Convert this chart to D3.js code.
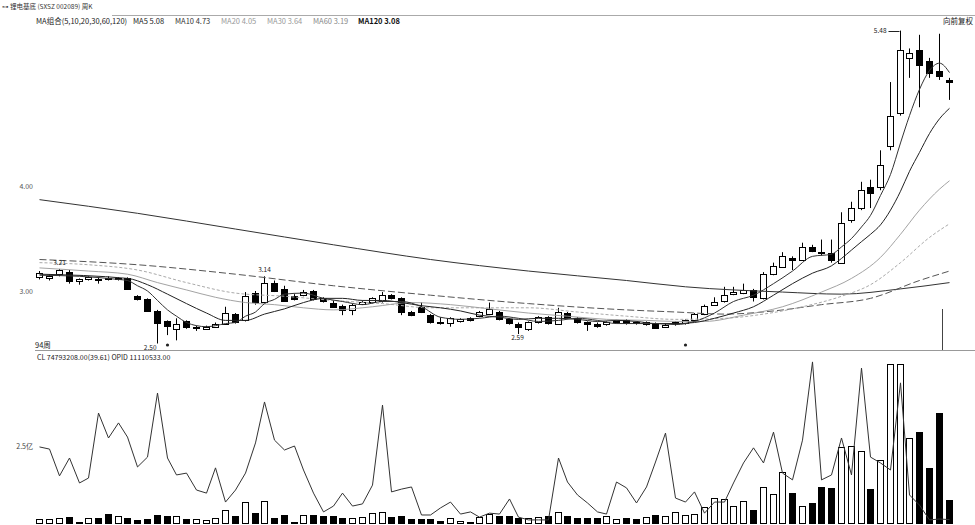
<!DOCTYPE html>
<html>
<head>
<meta charset="utf-8">
<script src="https://cdn.jsdelivr.net/npm/d3@7"></script>
<style>
  body { margin: 0; background: #fff; }
  text { font-family: "Noto Sans CJK SC", "DejaVu Sans", sans-serif; }
</style>
</head>
<body>
<div id="chart"></div>
<script>
// weekly OHLC, 94 bars
const open = [3.13,3.12,3.16,3.18,3.09,3.11,3.11,3.12,3.11,3.12, 2.95,2.92,2.81,2.71,2.64,2.71,2.65,2.64,2.66,2.69,
  2.78,2.72,2.98,2.90,3.08,3.02,2.95,2.96,3.00,2.93, 2.89,2.86,2.82,2.88,2.89,2.90,2.96,2.93,2.80,2.85,
  2.77,2.70,2.69,2.71,2.74,2.76,2.78,2.80,2.73,2.69, 2.63,2.70,2.75,2.69,2.79,2.74,2.70,2.69,2.68,2.70,
  2.72,2.70,2.68,2.69,2.66,2.69,2.69,2.72,2.78,2.87, 2.90,2.97,2.98,3.01,2.93,3.16,3.23,3.31,3.30,3.42,
  3.37,3.36,3.27,3.68,3.79,3.99,3.99,4.38,4.70,5.22, 5.30,5.19,5.10,5.01]
const high = [3.19,3.16,3.21,3.20,3.12,3.14,3.13,3.14,3.13,3.13, 2.96,2.93,2.82,2.72,2.74,2.72,2.67,2.67,2.70,2.85,
  2.79,2.99,3.00,3.14,3.10,3.05,2.97,3.01,3.01,2.94, 2.91,2.87,2.88,2.91,2.94,2.99,2.97,2.94,2.81,2.89,
  2.78,2.75,2.75,2.74,2.75,2.81,2.89,2.81,2.74,2.70, 2.71,2.76,2.76,2.84,2.80,2.75,2.71,2.70,2.71,2.72,
  2.73,2.71,2.71,2.70,2.69,2.71,2.73,2.79,2.87,2.94, 3.04,3.04,3.07,3.02,3.18,3.27,3.37,3.33,3.46,3.44,
  3.49,3.49,3.75,3.85,4.04,4.06,4.34,4.99,5.48,5.31, 5.44,5.22,5.45,5.03]
const low = [3.11,3.10,3.14,3.07,3.06,3.10,3.07,3.10,3.10,3.01, 2.91,2.80,2.50,2.58,2.53,2.64,2.62,2.63,2.65,2.68,
  2.69,2.71,2.87,2.89,2.99,2.90,2.91,2.95,2.91,2.89, 2.84,2.77,2.77,2.87,2.88,2.89,2.92,2.77,2.76,2.79,
  2.69,2.68,2.66,2.70,2.71,2.75,2.77,2.72,2.68,2.59, 2.62,2.69,2.68,2.68,2.74,2.69,2.62,2.65,2.67,2.69,
  2.68,2.68,2.67,2.64,2.65,2.67,2.68,2.71,2.77,2.86, 2.89,2.96,2.97,2.90,2.92,3.15,3.22,3.20,3.29,3.37,
  3.34,3.27,3.26,3.65,3.77,3.79,3.96,4.34,4.67,5.03, 4.75,5.03,5.01,4.82]
const close = [3.17,3.14,3.20,3.09,3.11,3.13,3.10,3.11,3.12,3.02, 2.92,2.81,2.70,2.66,2.69,2.65,2.66,2.66,2.69,2.79,
  2.70,2.95,2.89,3.08,3.00,2.91,2.92,2.99,2.92,2.90, 2.85,2.82,2.87,2.90,2.93,2.96,2.93,2.80,2.77,2.80,
  2.70,2.69,2.74,2.73,2.72,2.80,2.83,2.73,2.69,2.66, 2.70,2.75,2.69,2.80,2.75,2.70,2.68,2.67,2.70,2.71,
  2.69,2.69,2.70,2.65,2.68,2.70,2.72,2.78,2.86,2.90, 2.96,2.99,3.01,2.94,3.16,3.24,3.33,3.29,3.42,3.38,
  3.36,3.29,3.65,3.79,3.96,3.93,4.20,4.67,5.30,5.27, 5.16,5.08,5.05,4.99]

// volume (亿) and the volume-panel line (亿)
const volume = [0.13,0.13,0.16,0.19,0.03,0.16,0.16,0.29,0.23,0.16, 0.10,0.13,0.26,0.23,0.23,0.13,0.13,0.10,0.16,0.42,
  0.23,0.68,0.32,0.71,0.16,0.26,0.02,0.26,0.26,0.23, 0.23,0.16,0.16,0.19,0.32,0.36,0.19,0.23,0.13,0.13,
  0.13,0.06,0.16,0.06,0.02,0.19,0.29,0.23,0.23,0.16, 0.16,0.19,0.23,0.36,0.23,0.16,0.16,0.16,0.23,0.13,
  0.16,0.13,0.19,0.26,0.23,0.36,0.26,0.29,0.52,0.81, 0.78,0.55,0.71,0.42,1.17,0.94,1.66,0.97,0.55,0.65,
  1.17,1.14,2.47,2.50,2.34,1.10,2.05,5.16,5.16,2.76, 2.95,1.79,3.57,0.75]
const volLine = [2.47,2.40,1.53,2.11,1.30,1.46,3.57,2.76,3.25,2.79, 1.82,2.14,4.22,2.11,1.56,1.62,1.07,0.97,1.79,0.68,
  1.07,1.62,2.60,3.93,2.69,2.37,2.50,1.72,0.97,0.36, 0.55,0.97,0.55,0.62,1.23,3.83,1.01,1.10,1.17,0.26,
  0.26,0.49,0.68,0.29,0.36,0.19,0.32,0.29,0.78,0.19, 0.10,0.10,0.10,2.11,1.33,0.91,0.65,0.36,0.29,1.33,
  1.14,0.65,1.17,1.98,2.92,0.81,0.68,1.01,0.32,0.68, 0.68,1.30,1.95,2.44,1.95,2.95,1.62,1.40,2.69,5.23,
  1.40,1.56,2.76,1.56,5.03,2.14,1.95,1.72,4.55,0.91, 0.58,0.10,0.13,0.11]

// moving averages: [bar, price]
const ma5 = [[0,3.15],[4,3.14],[8,3.11],[9,3.10],[10,3.05],[11,3.00],[12,2.91],[13,2.82],[14,2.76],[15,2.70],[16,2.67],[17,2.66],[18,2.67],[19,2.69],[20,2.70],[21,2.76],[22,2.80],[23,2.88],[24,2.92],[25,2.97],[27,2.98],[29,2.93],[31,2.90],[33,2.87],[35,2.90],[37,2.90],[39,2.85],[41,2.75],[43,2.73],[45,2.74],[47,2.76],[49,2.74],[51,2.71],[53,2.72],[55,2.74],[57,2.72],[59,2.69],[61,2.69],[63,2.69],[65,2.68],[67,2.71],[69,2.79],[71,2.90],[73,2.96],[75,3.07],[77,3.19],[79,3.33],[81,3.35],[82,3.42],[83,3.50],[84,3.61],[85,3.72],[86,3.91],[87,4.11],[88,4.41],[89,4.67],[90,4.92],[91,5.10],[92,5.17],[93,5.08]]
const ma10 = [[0,3.16],[9,3.12],[11,3.06],[13,2.97],[15,2.88],[17,2.79],[19,2.72],[21,2.72],[23,2.78],[25,2.83],[27,2.89],[29,2.93],[31,2.93],[33,2.91],[35,2.91],[37,2.89],[39,2.86],[41,2.84],[43,2.81],[45,2.77],[47,2.75],[49,2.73],[51,2.74],[53,2.74],[55,2.73],[57,2.71],[59,2.72],[61,2.71],[63,2.69],[65,2.69],[67,2.70],[69,2.74],[71,2.79],[73,2.85],[75,2.96],[77,3.07],[79,3.17],[81,3.24],[82,3.31],[83,3.39],[84,3.47],[85,3.54],[86,3.63],[87,3.77],[88,3.95],[89,4.14],[90,4.32],[91,4.50],[92,4.64],[93,4.74]]
const ma20 = [[0,3.22],[5,3.19],[9,3.16],[12,3.08],[15,3.01],[18,2.94],[21,2.89],[24,2.87],[27,2.84],[30,2.82],[34,2.85],[38,2.89],[42,2.87],[46,2.83],[50,2.79],[54,2.76],[58,2.73],[62,2.72],[65,2.71],[68,2.71],[72,2.77],[76,2.85],[80,2.99],[83,3.12],[86,3.32],[88,3.54],[90,3.77],[92,3.97],[93,4.05]]
const ma30 = [[0,3.27],[5,3.25],[10,3.20],[15,3.08],[20,2.98],[25,2.95],[30,2.91],[35,2.88],[40,2.84],[45,2.84],[50,2.84],[55,2.80],[60,2.76],[65,2.73],[70,2.74],[74,2.78],[78,2.85],[82,2.95],[85,3.06],[88,3.27],[91,3.51],[93,3.64]]
const ma60 = [[0,3.30],[10,3.25],[20,3.16],[30,3.05],[40,2.96],[50,2.88],[60,2.82],[65,2.80],[70,2.78],[75,2.81],[80,2.87],[85,2.93],[90,3.10],[93,3.19]]
const ma120 = [[0,3.87],[10,3.74],[20,3.59],[30,3.44],[40,3.30],[50,3.19],[60,3.10],[66,3.04],[76,2.99],[82,2.97],[88,3.02],[93,3.08]]

const priceTicks = [3.00, 4.00]
const highLabelBars = [2, 23]
const lowLabelBars = [12, 49]
const maxBar = 88
const markBars = [13, 66]

const maHeader = [
  { name: "MA5", value: "5.08" }, { name: "MA10", value: "4.73" }, { name: "MA20", value: "4.05" },
  { name: "MA30", value: "3.64" }, { name: "MA60", value: "3.19" }, { name: "MA120", value: "3.08" }
]

var W = 975, H = 525

var svg = d3.select("#chart").append("svg")
  .attr("width", W).attr("height", H)

var n = open.length
var x = d3.scaleBand().domain(d3.range(n)).range([34.6, 953.4])
function cx(i) { return Math.round(x(i) + x.bandwidth() / 2) + 0.5 }

var y = d3.scaleLinear().domain([2.5, 5.5]).range([343.5, 28.5])
var yv = d3.scaleLinear().domain([0, 2.5]).range([523, 446])

// frame lines
svg.append("line").attr("x1", 112).attr("x2", 975).attr("y1", 15.5).attr("y2", 15.5)
  .attr("stroke", "#aaa")
svg.append("line").attr("x1", 35).attr("x2", 975).attr("y1", 350.5).attr("y2", 350.5)
  .attr("stroke", "#999")

// title + header
svg.append("text").attr("x", 2).attr("y", 9).attr("font-size", 6.5).attr("fill", "#333")
  .text("⊶ 锂电基底 (SXSZ 002089) 周K")
svg.append("text").attr("x", 36).attr("y", 24).attr("font-size", 7.5).attr("fill", "#222")
  .text("MA组合(5,10,20,30,60,120)")
var hdrX = [133, 175, 221, 267, 313, 358]
var hdrColor = ["#222", "#333", "#999", "#999", "#888", "#111"]
maHeader.forEach(function (d, k) {
  svg.append("text").attr("x", hdrX[k]).attr("y", 24).attr("font-size", 7.5)
    .attr("fill", hdrColor[k]).attr("font-weight", k == 5 ? "bold" : "normal")
    .text(d.name + " " + d.value)
})
svg.append("text").attr("x", 973).attr("y", 24).attr("text-anchor", "end")
  .attr("font-size", 7.5).attr("fill", "#222").text("向前复权")

// left price labels
svg.append("g").selectAll("text").data(priceTicks).join("text")
  .attr("x", 33).attr("y", d => y(d) + 2.5).attr("text-anchor", "end")
  .attr("font-size", 7).attr("fill", "#555")
  .text(d => d.toFixed(2))

svg.append("text").attr("x", 35).attr("y", 348).attr("font-size", 7.5).attr("fill", "#222").text("94周")

// MA lines
var maLine = d3.line().x(d => cx(d[0])).y(d => y(d[1])).curve(d3.curveMonotoneX)
var maSets = [
  { d: ma120, c: "#333", w: 1, dash: null },
  { d: ma60, c: "#555", w: 1, dash: "7,3" },
  { d: ma30, c: "#aaa", w: 1, dash: "3,2" },
  { d: ma20, c: "#999", w: 0.9, dash: null },
  { d: ma10, c: "#222", w: 1, dash: null },
  { d: ma5, c: "#333", w: 1, dash: null }
]

// candles
var cg = svg.append("g")
var idx = d3.range(n)
cg.selectAll("line.wick").data(idx).join("line").attr("class", "wick")
  .attr("x1", i => cx(i)).attr("x2", i => cx(i))
  .attr("y1", i => y(high[i])).attr("y2", i => y(low[i]))
  .attr("stroke", "#000").attr("stroke-width", 1)
cg.selectAll("rect").data(idx).join("rect")
  .attr("x", i => cx(i) - 3)
  .attr("y", i => Math.round(y(Math.max(open[i], close[i]))) + 0.5)
  .attr("width", 6)
  .attr("height", i => Math.max(1, Math.round(y(Math.min(open[i], close[i])) - y(Math.max(open[i], close[i])))))
  .attr("fill", i => close[i] >= open[i] ? "#fff" : "#000")
  .attr("stroke", "#000")

maSets.forEach(function (m) {
  svg.append("path").datum(m.d).attr("d", maLine)
    .attr("fill", "none").attr("stroke", m.c).attr("stroke-width", m.w)
    .attr("stroke-dasharray", m.dash)
})

// high / low labels
highLabelBars.forEach(function (i) {
  svg.append("text").attr("x", cx(i)).attr("y", y(high[i]) - 4).attr("text-anchor", "middle")
    .attr("font-size", 6.5).attr("fill", "#222").text(high[i].toFixed(2))
})
lowLabelBars.forEach(function (i) {
  svg.append("text").attr("x", cx(i) - 1).attr("y", y(low[i]) + 6).attr("text-anchor", i == 12 ? "end" : "middle")
    .attr("font-size", 6.5).attr("fill", "#222").text(low[i].toFixed(2))
})
svg.append("text").attr("x", cx(maxBar) - 14).attr("y", y(high[maxBar]) + 2.5).attr("text-anchor", "end")
  .attr("font-size", 6.5).attr("fill", "#222").text(high[maxBar].toFixed(2))
svg.append("line").attr("x1", cx(maxBar) - 12).attr("x2", cx(maxBar) - 1)
  .attr("y1", Math.round(y(high[maxBar])) + 0.5).attr("y2", Math.round(y(high[maxBar])) + 0.5)
  .attr("stroke", "#222")
svg.append("g").selectAll("circle").data(markBars).join("circle")
  .attr("cx", i => cx(i)).attr("cy", 345).attr("r", 1.6).attr("fill", "#222")

// cursor line near the right edge
svg.append("line").attr("x1", cx(92) + 3).attr("x2", cx(92) + 3).attr("y1", 309).attr("y2", 350)
  .attr("stroke", "#444")

// volume panel
svg.append("text").attr("x", 37).attr("y", 360).attr("font-size", 7).attr("fill", "#222")
  .text("CL  74793208.00(39.61)    OPID  11110533.00")
svg.append("text").attr("x", 33).attr("y", yv(2.5) + 2.5).attr("text-anchor", "end")
  .attr("font-size", 7).attr("fill", "#444").text("2.5亿")

svg.append("g").selectAll("rect").data(idx).join("rect")
  .attr("x", i => cx(i) - 3)
  .attr("y", i => Math.round(yv(volume[i])) + 0.5)
  .attr("width", 6)
  .attr("height", i => Math.max(1, 523 - Math.round(yv(volume[i]))))
  .attr("fill", i => close[i] >= open[i] ? "#fff" : "#000")
  .attr("stroke", "#000")

var vLine = d3.line().x((d, i) => cx(i)).y(d => yv(d))
svg.append("path").datum(volLine).attr("d", vLine)
  .attr("fill", "none").attr("stroke", "#333").attr("stroke-width", 1)
</script>
</body>
</html>
